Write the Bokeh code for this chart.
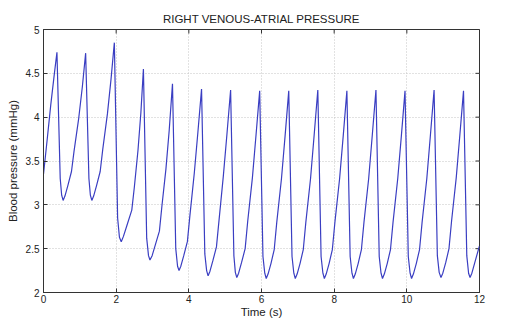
from math import pi
from bokeh.plotting import figure
from bokeh.models import FixedTicker, NumeralTickFormatter, Range1d, ColumnDataSource
from bokeh.embed import file_html
from bokeh.resources import INLINE

TITLE = "RIGHT VENOUS-ATRIAL PRESSURE"
X_LABEL = "Time (s)"
Y_LABEL = "Blood pressure (mmHg)"

x_ticks = [0, 2, 4, 6, 8, 10, 12]
y_ticks = [2, 2.5, 3, 3.5, 4, 4.5, 5]

time_s = [
    0.00, 0.10, 0.20, 0.30,
    0.37, 0.46, 0.50, 0.54, 0.59, 0.67, 0.77, 0.84, 0.97, 1.07,
    1.16, 1.25, 1.29, 1.33, 1.38, 1.46, 1.56, 1.63, 1.76, 1.86,
    1.95, 2.04, 2.09, 2.14, 2.20, 2.30, 2.43, 2.50, 2.60, 2.68,
    2.75, 2.84, 2.89, 2.93, 2.99, 3.09, 3.19, 3.26, 3.37, 3.46,
    3.55, 3.64, 3.69, 3.73, 3.78, 3.86, 3.96, 4.03, 4.15, 4.25,
    4.35, 4.44, 4.49, 4.53, 4.58, 4.66, 4.76, 4.83, 4.95, 5.05,
    5.15, 5.24, 5.28, 5.32, 5.37, 5.45, 5.55, 5.62, 5.75, 5.85,
    5.95, 6.04, 6.09, 6.13, 6.18, 6.26, 6.35, 6.42, 6.55, 6.65,
    6.75, 6.84, 6.89, 6.93, 6.98, 7.06, 7.15, 7.22, 7.35, 7.45,
    7.55, 7.64, 7.69, 7.73, 7.78, 7.86, 7.95, 8.02, 8.15, 8.25,
    8.35, 8.44, 8.49, 8.53, 8.58, 8.66, 8.75, 8.82, 8.95, 9.05,
    9.15, 9.24, 9.29, 9.33, 9.38, 9.46, 9.55, 9.62, 9.75, 9.85,
    9.95, 10.04, 10.09, 10.13, 10.18, 10.26, 10.35, 10.42, 10.55, 10.65,
    10.75, 10.84, 10.89, 10.94, 10.99, 11.07, 11.16, 11.23, 11.36, 11.46,
    11.56, 11.65, 11.70, 11.74, 11.79, 11.87, 11.97, 12.00,
]

pressure_mmHg = [
    3.35, 3.74, 4.14, 4.50,
    4.74, 3.30, 3.11, 3.05, 3.10, 3.22, 3.38, 3.61, 3.99, 4.35,
    4.73, 3.30, 3.11, 3.05, 3.10, 3.22, 3.38, 3.63, 4.04, 4.44,
    4.85, 2.85, 2.63, 2.58, 2.64, 2.77, 2.94, 3.20, 3.62, 4.05,
    4.55, 2.62, 2.42, 2.37, 2.42, 2.56, 2.70, 2.99, 3.41, 3.85,
    4.38, 2.50, 2.30, 2.25, 2.30, 2.42, 2.58, 2.88, 3.36, 3.83,
    4.32, 2.44, 2.25, 2.19, 2.24, 2.36, 2.52, 2.82, 3.33, 3.81,
    4.31, 2.42, 2.23, 2.17, 2.22, 2.34, 2.50, 2.81, 3.31, 3.80,
    4.30, 2.41, 2.22, 2.16, 2.21, 2.33, 2.49, 2.80, 3.30, 3.79,
    4.30, 2.41, 2.22, 2.16, 2.21, 2.33, 2.49, 2.80, 3.30, 3.80,
    4.31, 2.41, 2.22, 2.16, 2.21, 2.33, 2.49, 2.80, 3.30, 3.79,
    4.30, 2.41, 2.22, 2.16, 2.21, 2.33, 2.49, 2.80, 3.30, 3.80,
    4.31, 2.41, 2.22, 2.16, 2.21, 2.33, 2.49, 2.80, 3.30, 3.79,
    4.30, 2.41, 2.22, 2.16, 2.21, 2.33, 2.49, 2.80, 3.30, 3.80,
    4.31, 2.42, 2.23, 2.17, 2.22, 2.34, 2.50, 2.81, 3.31, 3.80,
    4.30, 2.42, 2.22, 2.17, 2.22, 2.34, 2.49, 2.53,
]

X_MIN, X_MAX = 0, 12
Y_MIN, Y_MAX = 2, 5

FONT = "Liberation Sans"
TXT = "#222222"
EDGE = "#333333"

src = ColumnDataSource(data=dict(t=time_s, p=pressure_mmHg))

p = figure(width=513, height=320, output_backend="svg", toolbar_location=None,
           x_range=Range1d(X_MIN, X_MAX), y_range=Range1d(Y_MIN, Y_MAX), title=TITLE,
           min_border_left=43, min_border_right=34, min_border_top=29, min_border_bottom=10,
           background_fill_color="white", border_fill_color="white")

p.title.align = "center"
p.title.text_font = FONT
p.title.text_font_size = "11.5px"
p.title.text_font_style = "normal"
p.title.text_color = TXT
p.title.standoff = 9

xt = FixedTicker(ticks=x_ticks)
yt = FixedTicker(ticks=y_ticks)

for ax, tk in ((p.xaxis[0], xt), (p.yaxis[0], yt)):
    ax.ticker = tk
    ax.major_tick_in = 4
    ax.major_tick_out = 0
    ax.minor_tick_line_color = None
    ax.major_tick_line_color = EDGE
    ax.axis_line_color = EDGE
    ax.major_label_text_font = FONT
    ax.major_label_text_font_size = "10px"
    ax.major_label_text_color = TXT
    ax.major_label_standoff = 4
    ax.axis_label_text_font = FONT
    ax.axis_label_text_font_size = "11.5px"
    ax.axis_label_text_font_style = "normal"
    ax.axis_label_text_color = TXT

p.xaxis[0].axis_label = X_LABEL
p.xaxis[0].axis_label_standoff = 0
p.xaxis[0].major_label_standoff = 2
p.yaxis[0].axis_label = Y_LABEL
p.yaxis[0].axis_label_standoff = 4
p.yaxis[0].formatter = NumeralTickFormatter(format="0.[0]")

# inner tick marks on the top and right edges of the box (clipped to the frame)
p.scatter(x=x_ticks, y=[Y_MAX] * len(x_ticks), marker="dash", angle=pi / 2, size=8,
          line_color=EDGE, line_width=1)
p.scatter(x=[X_MAX] * len(y_ticks), y=y_ticks, marker="dash", size=8,
          line_color=EDGE, line_width=1)

p.xgrid.ticker = xt
p.ygrid.ticker = yt
for g in (p.xgrid, p.ygrid):
    g.grid_line_color = "#c4c4c4"
    g.grid_line_dash = "1 2"
    g.grid_line_width = 1

p.outline_line_color = EDGE
p.outline_line_width = 1
p.outline_line_alpha = 1

p.line("t", "p", source=src, line_color="#3a3ec2", line_width=1.2)

open("out.html", "w").write(file_html(p, INLINE))
